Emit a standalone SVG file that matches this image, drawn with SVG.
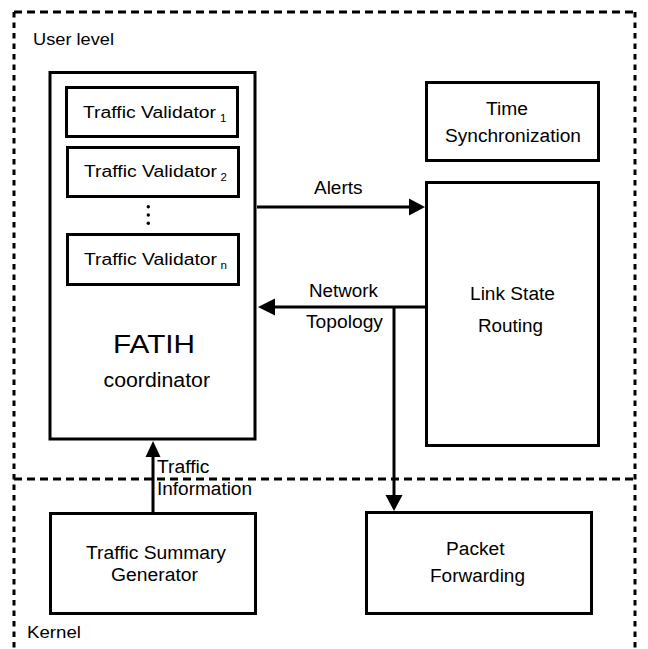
<svg xmlns="http://www.w3.org/2000/svg" width="648" height="649" viewBox="0 0 648 649">
  <style>
    .frame-h { stroke: #000; stroke-width: 3; stroke-dasharray: 8 5; fill: none; }
    .frame-v { stroke: #000; stroke-width: 3; stroke-dasharray: 5.5 5; fill: none; }
    .box { fill: #fff; stroke: #000; stroke-width: 3; }
    .wire { stroke: #000; stroke-width: 3; fill: none; }
    .head { fill: #000; stroke: none; }
    text { font-family: "Liberation Sans", Arial, sans-serif; fill: #000; }
    .tv { font-size: 16px; }
    .lbl { font-size: 18px; }
    .sub { font-size: 11.5px; }
  </style>
  <rect width="648" height="649" fill="#fff"/>

  <!-- user / kernel boundary -->
  <g id="levels">
    <line class="frame-h" x1="14" y1="12" x2="635" y2="12"/>
    <line class="frame-v" x1="14" y1="12" x2="14" y2="649"/>
    <line class="frame-v" x1="635" y1="12" x2="635" y2="649"/>
    <line class="frame-h" x1="14" y1="479" x2="635" y2="479"/>
    <text x="33" y="45" font-size="17" textLength="81" lengthAdjust="spacingAndGlyphs">User level</text>
    <text x="27" y="638" font-size="17" textLength="54" lengthAdjust="spacingAndGlyphs">Kernel</text>
  </g>

  <g id="fatih-coordinator">
    <rect class="box" x="50" y="72.5" width="205" height="366.5"/>
    <text x="113" y="353" font-size="25" textLength="82" lengthAdjust="spacingAndGlyphs">FATIH</text>
    <text x="103.5" y="386.5" font-size="19.5" textLength="106.5" lengthAdjust="spacingAndGlyphs">coordinator</text>
  </g>

  <g id="validator-1">
    <rect class="box" x="66.5" y="87.5" width="171" height="49"/>
    <text class="tv" x="83" y="117.5" textLength="133" lengthAdjust="spacingAndGlyphs">Traffic Validator</text>
    <text class="sub" x="220" y="121.5">1</text>
  </g>

  <g id="validator-2">
    <rect class="box" x="67.5" y="147.5" width="171" height="49"/>
    <text class="tv" x="84" y="177" textLength="133" lengthAdjust="spacingAndGlyphs">Traffic Validator</text>
    <text class="sub" x="220.5" y="181">2</text>
  </g>

  <g id="validator-ellipsis">
    <circle cx="148.3" cy="206.7" r="1.7"/>
    <circle cx="148.3" cy="215" r="1.7"/>
    <circle cx="148.3" cy="223.3" r="1.7"/>
  </g>

  <g id="validator-n">
    <rect class="box" x="67.5" y="234.5" width="171" height="50"/>
    <text class="tv" x="84" y="265" textLength="133" lengthAdjust="spacingAndGlyphs">Traffic Validator</text>
    <text class="sub" x="220.5" y="268.5">n</text>
  </g>

  <g id="time-sync">
    <rect class="box" x="426.5" y="82.5" width="172" height="78"/>
    <text class="lbl" x="486" y="115" textLength="42" lengthAdjust="spacingAndGlyphs">Time</text>
    <text class="lbl" x="445" y="141.7" textLength="136" lengthAdjust="spacingAndGlyphs">Synchronization</text>
  </g>

  <g id="link-state-routing">
    <rect class="box" x="426.5" y="182.5" width="172" height="263"/>
    <text class="lbl" x="470" y="300" textLength="85" lengthAdjust="spacingAndGlyphs">Link State</text>
    <text class="lbl" x="478" y="331.5" textLength="65" lengthAdjust="spacingAndGlyphs">Routing</text>
  </g>

  <g id="traffic-summary">
    <rect class="box" x="50.5" y="513.5" width="205" height="100"/>
    <text class="lbl" x="86" y="559.3" textLength="140" lengthAdjust="spacingAndGlyphs">Traffic Summary</text>
    <text class="lbl" x="111" y="581" textLength="87" lengthAdjust="spacingAndGlyphs">Generator</text>
  </g>

  <g id="packet-forwarding">
    <rect class="box" x="366.5" y="512.5" width="225" height="101"/>
    <text class="lbl" x="446" y="555" textLength="58.5" lengthAdjust="spacingAndGlyphs">Packet</text>
    <text class="lbl" x="430" y="581.7" textLength="95" lengthAdjust="spacingAndGlyphs">Forwarding</text>
  </g>

  <g id="connectors">
    <!-- alerts: coordinator to routing -->
    <line class="wire" x1="257" y1="207" x2="410" y2="207"/>
    <polygon class="head" points="425,207 409,198.5 409,215.5"/>
    <text class="lbl" x="314" y="194" textLength="48.5" lengthAdjust="spacingAndGlyphs">Alerts</text>

    <!-- network topology: routing to coordinator and forwarding -->
    <line class="wire" x1="425" y1="307" x2="273" y2="307"/>
    <polygon class="head" points="258,307 275,298.5 275,315.5"/>
    <line class="wire" x1="394" y1="307" x2="394" y2="496"/>
    <polygon class="head" points="394,511 385.5,495 402.5,495"/>
    <text class="lbl" x="309" y="297" textLength="69" lengthAdjust="spacingAndGlyphs">Network</text>
    <text class="lbl" x="306" y="328" textLength="77" lengthAdjust="spacingAndGlyphs">Topology</text>

    <!-- traffic information: summary generator to coordinator -->
    <line class="wire" x1="153" y1="512" x2="153" y2="456"/>
    <polygon class="head" points="153,441 145.5,457 160.5,457"/>
    <text class="lbl" x="157" y="473" textLength="52.5" lengthAdjust="spacingAndGlyphs">Traffic</text>
    <text class="lbl" x="157" y="495" textLength="95" lengthAdjust="spacingAndGlyphs">Information</text>
  </g>
</svg>
